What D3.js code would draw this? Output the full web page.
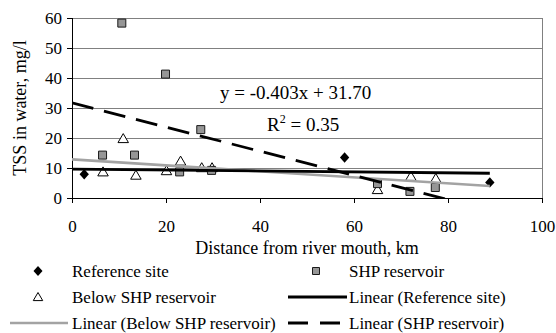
<!DOCTYPE html>
<html>
<head>
<meta charset="utf-8">
<script src="https://cdn.jsdelivr.net/npm/d3@7"></script>
<style>
  html, body { margin: 0; padding: 0; background: #fff; }
  svg text { font-family: "Liberation Serif", "Times New Roman", serif; fill: #000; }
</style>
</head>
<body>
<svg id="chart" width="556" height="333" font-family="Liberation Serif"></svg>
<script>
// Distance from river mouth (km) and TSS (mg/l) per site group
const refX = [2.6, 58.0, 88.9];
const refY = [7.9, 13.5, 5.2];
const shpX = [6.5, 10.6, 13.3, 19.9, 22.9, 27.4, 29.7, 65.0, 71.9, 77.3];
const shpY = [14.3, 58.3, 14.3, 41.3, 8.7, 22.8, 9.2, 4.8, 2.2, 3.5];
const belowX = [6.6, 10.9, 13.6, 20.1, 23.1, 27.6, 29.8, 65.0, 72.1, 77.4];
const belowY = [8.7, 19.8, 7.6, 9.1, 12.3, 10.1, 10.1, 2.8, 7.2, 6.5];

// Reported fit for the SHP reservoir group
const shpSlope = -0.403;
const shpIntercept = 31.70;
const shpR2 = 0.35;

const xTicks = [0, 20, 40, 60, 80, 100];
const yTicks = [0, 10, 20, 30, 40, 50, 60];

const legendLabels = ["Reference site", "SHP reservoir", "Below SHP reservoir",
  "Linear (Reference site)", "Linear (Below SHP reservoir)", "Linear (SHP reservoir)"];

const FONT = "'Liberation Serif', 'Times New Roman', serif";
const svg = d3.select("#chart");
const m = { left: 72, right: 542, top: 18, bottom: 198 };

const x = d3.scaleLinear().domain([0, 100]).range([m.left, m.right]);
const y = d3.scaleLinear().domain([0, 60]).range([m.bottom, m.top]);

// least-squares line
function fit(xs, ys) {
  const mx = d3.mean(xs), my = d3.mean(ys);
  let sxy = 0, sxx = 0;
  xs.forEach((v, i) => { sxy += (v - mx) * (ys[i] - my); sxx += (v - mx) * (v - mx); });
  const slope = sxy / sxx;
  return { slope, intercept: my - slope * mx };
}

svg.append("defs").append("clipPath").attr("id", "plot")
  .append("rect").attr("x", m.left).attr("y", m.top)
  .attr("width", m.right - m.left).attr("height", m.bottom - m.top);

// horizontal gridlines and right frame
svg.append("g").selectAll("line").data(yTicks.filter(d => d > 0)).join("line")
  .attr("x1", m.left).attr("x2", m.right)
  .attr("y1", d => y(d)).attr("y2", d => y(d))
  .attr("stroke", "#808080").attr("stroke-width", 1).attr("shape-rendering", "crispEdges");
svg.append("line").attr("x1", m.right).attr("x2", m.right)
  .attr("y1", m.top).attr("y2", m.bottom)
  .attr("stroke", "#808080").attr("shape-rendering", "crispEdges");

// axes
const yAxis = svg.append("g").attr("transform", `translate(${m.left},0)`)
  .call(d3.axisLeft(y).tickValues(yTicks).tickSize(5).tickPadding(5).tickFormat(d3.format("d")));
const xAxis = svg.append("g").attr("transform", `translate(0,${m.bottom})`)
  .call(d3.axisBottom(x).tickValues(xTicks).tickSize(5).tickPadding(17).tickFormat(d3.format("d")));
[yAxis, xAxis].forEach(g => {
  g.attr("font-family", FONT).attr("font-size", 17);
  g.select(".domain").attr("stroke", "#000").attr("shape-rendering", "crispEdges");
  g.selectAll(".tick line").attr("stroke", "#000").attr("shape-rendering", "crispEdges");
  g.selectAll("text").style("font-family", FONT).style("font-size", "17px").attr("fill", "#000");
});
xAxis.selectAll("text").attr("dy", "0.71em");

// axis titles
svg.append("text").attr("transform", `translate(26,${(m.top + m.bottom) / 2}) rotate(-90)`)
  .attr("text-anchor", "middle").style("font-family", FONT).style("font-size", "18px")
  .text("TSS in water, mg/l");
svg.append("text").attr("x", (m.left + m.right) / 2).attr("y", 254)
  .attr("text-anchor", "middle").style("font-family", FONT).style("font-size", "18px")
  .text("Distance from river mouth, km");

// marker shapes
const diamond = s => `M0,${-s}L${s * 0.9},0L0,${s}L${-s * 0.9},0Z`;
const square = s => `M${-s},${-s}H${s}V${s}H${-s}Z`;
const triangle = s => `M0,${-s}L${s * 1.05},${s * 0.8}L${-s * 1.05},${s * 0.8}Z`;

function markers(xs, ys, path, fill, stroke) {
  svg.append("g").selectAll("path").data(xs.map((v, i) => [v, ys[i]])).join("path")
    .attr("transform", d => `translate(${x(d[0])},${y(d[1])})`)
    .attr("d", path).attr("fill", fill).attr("stroke", stroke).attr("stroke-width", 1);
}
markers(belowX, belowY, triangle(5), "#fff", "#000");
markers(shpX, shpY, square(4), "#969696", "#1a1a1a");
markers(refX, refY, diamond(5.2), "#000", "none");

// trend lines over the observed distance range
const xMax = d3.max([...refX, ...shpX, ...belowX]);
const trends = [
  { f: fit(belowX, belowY), color: "#a3a3a3", width: 2.6, dash: null },
  { f: fit(refX, refY), color: "#000", width: 2.8, dash: null },
  { f: { slope: shpSlope, intercept: shpIntercept }, color: "#000", width: 2.8, dash: "22,11" }
];
const tg = svg.append("g").attr("clip-path", "url(#plot)");
trends.forEach(t => {
  tg.append("line")
    .attr("x1", x(0)).attr("y1", y(t.f.intercept))
    .attr("x2", x(xMax)).attr("y2", y(t.f.intercept + t.f.slope * xMax))
    .attr("stroke", t.color).attr("stroke-width", t.width)
    .attr("stroke-dasharray", t.dash);
});

// regression label
svg.append("text").attr("x", 220).attr("y", 99).style("font-family", FONT).style("font-size", "19px")
  .text(`y = ${shpSlope.toFixed(3)}x + ${shpIntercept.toFixed(2)}`);
const r2 = svg.append("text").attr("x", 267).attr("y", 131).style("font-family", FONT).style("font-size", "19px");
r2.append("tspan").text("R");
r2.append("tspan").attr("dy", -8).style("font-size", "12px").text("2");
r2.append("tspan").attr("dy", 8).text(` = ${shpR2.toFixed(2)}`);

// legend
const lg = svg.append("g");
const rows = [271, 297, 323];
const colText = [72, 349];
function legendText(xp, yp, s) {
  lg.append("text").attr("x", xp).attr("y", yp + 5.5)
    .style("font-family", FONT).style("font-size", "17px").text(s);
}
lg.append("path").attr("transform", `translate(38,${rows[0]})`).attr("d", diamond(5)).attr("fill", "#000");
legendText(colText[0], rows[0], legendLabels[0]);
lg.append("path").attr("transform", `translate(316,${rows[0]})`).attr("d", square(3.5))
  .attr("fill", "#969696").attr("stroke", "#1a1a1a");
legendText(colText[1], rows[0], legendLabels[1]);
lg.append("path").attr("transform", `translate(38,${rows[1]})`).attr("d", triangle(4.5))
  .attr("fill", "#fff").attr("stroke", "#000");
legendText(colText[0], rows[1], legendLabels[2]);
lg.append("line").attr("x1", 288).attr("x2", 347).attr("y1", rows[1]).attr("y2", rows[1])
  .attr("stroke", "#000").attr("stroke-width", 2.8);
legendText(colText[1], rows[1], legendLabels[3]);
lg.append("line").attr("x1", 10).attr("x2", 68).attr("y1", rows[2]).attr("y2", rows[2])
  .attr("stroke", "#a3a3a3").attr("stroke-width", 2.6);
legendText(colText[0], rows[2], legendLabels[4]);
lg.append("line").attr("x1", 288).attr("x2", 347).attr("y1", rows[2]).attr("y2", rows[2])
  .attr("stroke", "#000").attr("stroke-width", 2.8).attr("stroke-dasharray", "20,12");
legendText(colText[1], rows[2], legendLabels[5]);
</script>
</body>
</html>
